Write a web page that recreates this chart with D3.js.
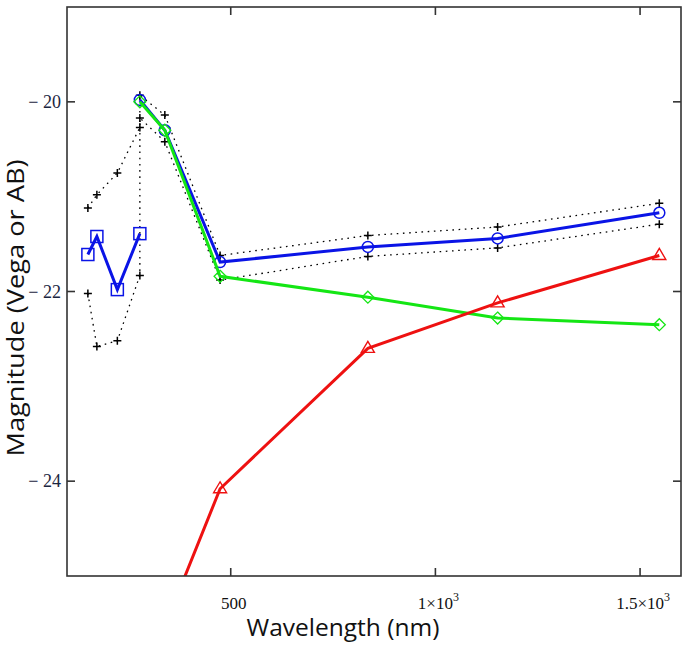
<!DOCTYPE html>
<html>
<head>
<meta charset="utf-8">
<script src="https://cdn.jsdelivr.net/npm/d3@7"></script>
<style>
  html, body { margin: 0; padding: 0; background: #fff; }
  svg { display: block; }
</style>
</head>
<body>
<svg id="chart" width="685" height="650"></svg>
<script>
// ---------- data (wavelength nm, magnitude) ----------
const blueSquares = [[151, -21.61], [173, -21.42], [223, -21.98], [278, -21.39]];
const blueCircles = [[278, -19.98], [339, -20.30], [474, -21.69], [835, -21.53], [1152, -21.44], [1547, -21.17]];
const greenDiamonds = [[278, -20.00], [339, -20.30], [474, -21.84], [835, -22.06], [1152, -22.28], [1547, -22.35]];
const redTriangles = [[339, -25.53], [474, -24.08], [835, -22.60], [1152, -22.12], [1547, -21.62]];
const upperBound = [[151, -21.12], [173, -20.98], [223, -20.75], [278, -20.27], [278, -19.93], [339, -20.14],
                    [474, -21.62], [835, -21.41], [1152, -21.32], [1547, -21.07]];
const lowerBound = [[151, -22.02], [173, -22.58], [223, -22.52], [278, -21.83], [278, -20.17], [339, -20.42],
                    [474, -21.88], [835, -21.63], [1152, -21.54], [1547, -21.29]];
const xTicks = [500, 1000, 1500];
const xTickLabels = ["500", "1×10^3", "1.5×10^3"];
const yTicks = [-20, -22, -24];
const yTickLabels = ["− 20", "− 22", "− 24"];
const xTitle = "Wavelength (nm)";
const yTitle = "Magnitude (Vega or AB)";

// ---------- layout ----------
const L = 67, R = 681, T = 7, B = 576;
const svg = d3.select("#chart");
const x = d3.scaleLinear().domain([100, 1600]).range([L, R]);
const y = d3.scaleLinear().domain([-19, -25]).range([T, B]);

svg.append("defs").append("clipPath").attr("id", "clip")
  .append("rect").attr("x", L).attr("y", T).attr("width", R - L).attr("height", B - T);

const plot = svg.append("g").attr("clip-path", "url(#clip)");
const line = d3.line().x(d => x(d[0])).y(d => y(d[1]));

// dotted bounds
[upperBound, lowerBound].forEach(s => {
  plot.append("path").datum(s).attr("d", line)
    .attr("fill", "none").attr("stroke", "#000").attr("stroke-width", 1.3)
    .attr("stroke-dasharray", "1.6,4.6");
  plot.selectAll(null).data(s).enter().append("path")
    .attr("d", d => `M${x(d[0]) - 4},${y(d[1])}h8M${x(d[0])},${y(d[1]) - 4}v8`)
    .attr("stroke", "#000").attr("stroke-width", 1.5);
});

const BLUE = "#0a14e6", GREEN = "#14e614", RED = "#ee1111";
const LW = 3;

// blue squares
plot.append("path").datum(blueSquares).attr("d", line)
  .attr("fill", "none").attr("stroke", BLUE).attr("stroke-width", LW);
plot.selectAll(null).data(blueSquares).enter().append("rect")
  .attr("x", d => x(d[0]) - 6).attr("y", d => y(d[1]) - 6).attr("width", 12).attr("height", 12)
  .attr("fill", "none").attr("stroke", BLUE).attr("stroke-width", 1.5);

// blue circles
plot.append("path").datum(blueCircles).attr("d", line)
  .attr("fill", "none").attr("stroke", BLUE).attr("stroke-width", LW);
plot.selectAll(null).data(blueCircles).enter().append("circle")
  .attr("cx", d => x(d[0])).attr("cy", d => y(d[1])).attr("r", 5.5)
  .attr("fill", "none").attr("stroke", BLUE).attr("stroke-width", 1.5);

// green diamonds
plot.append("path").datum(greenDiamonds).attr("d", line)
  .attr("fill", "none").attr("stroke", GREEN).attr("stroke-width", LW);
plot.selectAll(null).data(greenDiamonds).enter().append("path")
  .attr("d", d => `M${x(d[0])},${y(d[1]) - 6}l6,6l-6,6l-6,-6z`)
  .attr("fill", "none").attr("stroke", GREEN).attr("stroke-width", 1.3);

// red triangles
plot.append("path").datum(redTriangles).attr("d", line)
  .attr("fill", "none").attr("stroke", RED).attr("stroke-width", LW);
plot.selectAll(null).data(redTriangles).enter().append("path")
  .attr("d", d => `M${x(d[0])},${y(d[1]) - 7}l6.5,11h-13z`)
  .attr("fill", "none").attr("stroke", RED).attr("stroke-width", 1.4);

// frame
svg.append("rect").attr("x", L).attr("y", T).attr("width", R - L).attr("height", B - T)
  .attr("fill", "none").attr("stroke", "#333").attr("stroke-width", 1.6);

// ticks
const tk = svg.append("g").attr("stroke", "#333").attr("stroke-width", 1.6);
xTicks.forEach(v => {
  tk.append("line").attr("x1", x(v)).attr("x2", x(v)).attr("y1", B).attr("y2", B - 8);
  tk.append("line").attr("x1", x(v)).attr("x2", x(v)).attr("y1", T).attr("y2", T + 8);
});
yTicks.forEach(v => {
  tk.append("line").attr("x1", L).attr("x2", L + 8).attr("y1", y(v)).attr("y2", y(v));
  tk.append("line").attr("x1", R).attr("x2", R - 8).attr("y1", y(v)).attr("y2", y(v));
});

// tick labels
const serif = "'Liberation Serif', 'DejaVu Serif', serif";
xTicks.forEach((v, i) => {
  const parts = xTickLabels[i].split("^");
  const t = svg.append("text").attr("x", x(v) + 3).attr("y", 609)
    .attr("text-anchor", "middle").attr("font-family", serif).attr("font-size", 17)
    .attr("fill", "#111");
  t.append("tspan").text(parts[0]);
  if (parts[1]) t.append("tspan").attr("dy", -8).attr("font-size", 12).text(parts[1]);
});
yTicks.forEach((v, i) => {
  svg.append("text").attr("x", 61).attr("y", y(v) + 6)
    .attr("text-anchor", "end").attr("font-family", serif).attr("font-size", 18)
    .attr("fill", "#1b2540").text(yTickLabels[i]);
});

// axis titles
const sans = "'Open Sans', 'Noto Sans', sans-serif";
svg.append("text").attr("x", 343).attr("y", 636).attr("text-anchor", "middle")
  .attr("font-family", sans).attr("font-size", 23).attr("fill", "#111")
  .attr("textLength", 193).attr("lengthAdjust", "spacingAndGlyphs").text(xTitle);
svg.append("text").attr("transform", "translate(24,308) rotate(-90)").attr("text-anchor", "middle")
  .attr("font-family", sans).attr("font-size", 23).attr("fill", "#111")
  .attr("textLength", 297).attr("lengthAdjust", "spacingAndGlyphs").text(yTitle);
</script>
</body>
</html>
